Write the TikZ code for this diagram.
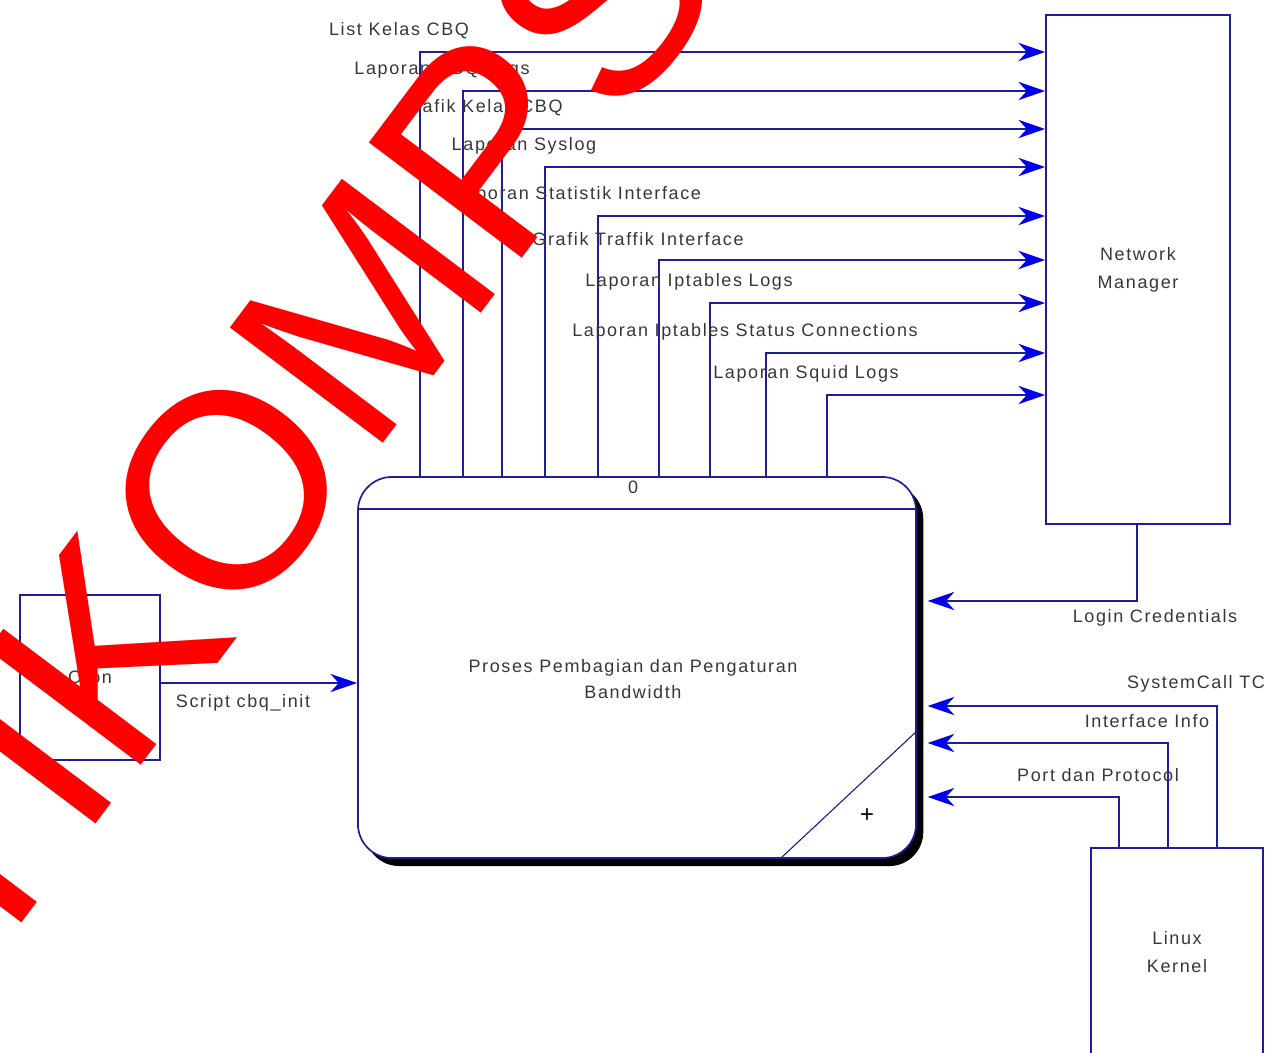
\documentclass[tikz,border=0pt]{standalone}
\usepackage{fontspec}
\setmainfont{Liberation Sans}[LetterSpace=9]
\newfontfamily\wmfont{Liberation Sans}
\usetikzlibrary{arrows.meta,shadows}
\definecolor{garis}{RGB}{30,30,150}
\definecolor{panah}{RGB}{0,0,235}
\definecolor{teks}{RGB}{55,55,55}
\begin{document}
\begin{tikzpicture}[x=0.025cm, y=-0.025cm,
  kotak/.style={draw=garis, line width=1.2pt, fill=white, text=teks, align=center, font=\fontsize{12.8}{20}\selectfont},
  alur/.style={draw=garis, line width=1.2pt, -{Stealth[length=19pt,width=13pt,inset=6pt,color=panah]}},
  ket/.style={text=teks, font=\fontsize{12.8}{18.5}\selectfont, inner sep=0pt},
  wm/.style={text=red, font=\wmfont\fontsize{198}{198}\selectfont, rotate=53, anchor=base west, inner sep=0pt}]
\useasboundingbox (0,0) rectangle (1268,1052);
% entitas luar
\node[kotak, minimum width=4.6cm, minimum height=12.725cm] (nm) at (1138,269.5) {Network\\Manager};
\node[kotak, minimum width=4.3cm, minimum height=5.2cm] (lk) at (1177,952) {Linux\\Kernel};
\node[kotak, minimum width=3.5cm, minimum height=4.125cm] (cron) at (90,677.5) {Cron};
% proses 0
\node[kotak, rounded corners=0.85cm, minimum width=13.95cm, minimum height=9.525cm,
  drop shadow={opacity=1, fill=black, shadow xshift=0.18cm, shadow yshift=-0.2cm}] (p) at (637,667.5) {};
\coordinate (pk) at ([xshift=0.27cm]p.east);
\draw[garis, line width=1.2pt] (p.west |- 0,509) -- (p.east |- 0,509);
\node[ket] (nol) at (633,487) {0};
\node[ket, align=center] (judul) at (633,679) {Proses Pembagian dan Pengaturan\\Bandwidth};
\draw[garis, line width=0.8pt] (p.south -| 780,0) -- (p.east |- 0,731);
\node[ket, text=black, font=\fontsize{17}{17}\selectfont] (plus) at (867,816) {+};
% aliran ke network manager
\foreach \i/\x/\y/\t in {1/420/52/List Kelas CBQ, 2/463/91/Laporan CBQ Logs, 3/502/129/Grafik Kelas CBQ,
  4/545/167/Laporan Syslog, 5/598/216/Laporan Statistik Interface, 6/659/260/Grafik Traffik Interface,
  7/710/303/Laporan Iptables Logs, 8/766/353/Laporan Iptables Status Connections, 9/827/395/Laporan Squid Logs}
  {\draw[alur] (p.north -| \x,0) |- (nm.west |- 0,\y);
  \node[ket] (k\i) at (\x-21,\y-21) {\t};}
% aliran masuk proses
\draw[alur] (nm.south -| 1137,0) |- (pk |- 0,601);
\node[ket] (login) at (1155,618) {Login Credentials};
\foreach \i/\x/\y/\t in {1/1217/706/SystemCall TC, 2/1168/743/Interface Info, 3/1119/797/Port dan Protocol}
  {\draw[alur] (lk.north -| \x,0) |- (pk |- 0,\y);
  \node[ket] (m\i) at (\x-21,\y-22) {\t};}
\draw[alur] (cron.east |- 0,683) -- (p.west |- 0,683);
\node[ket] (skrip) at (243,703) {Script cbq\_init};
% watermark
\node[wm] (wm) at (-22,981) {TIKOMPS};
\end{tikzpicture}
\end{document}
